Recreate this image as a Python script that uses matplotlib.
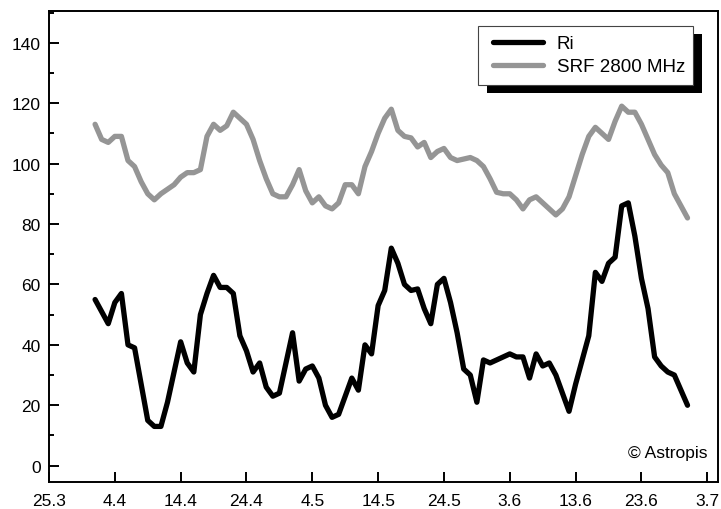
"""Ri index vs SRF 2800 MHz solar flux, April-June, drawn to out.png."""

from datetime import datetime, timedelta

import matplotlib

matplotlib.use("Agg")
import matplotlib.pyplot as plt
from matplotlib.patches import Rectangle
from matplotlib.ticker import MultipleLocator

YEAR = 2010

# daily values, 1 April .. 30 June
start_day = datetime(YEAR, 4, 1)
ri = [
    55, 51, 47, 54, 57, 40, 39, 27, 15, 13,
    13, 21, 31, 41, 34, 31, 50, 57, 63, 59,
    59, 57, 43, 38, 31, 34, 26, 23, 24, 34,
    44, 28, 32, 33, 29, 20, 16, 17, 23, 29,
    25, 40, 37, 53, 58, 72, 67, 60, 58, 58.5,
    52, 47, 60, 62, 54, 44, 32, 30, 21, 35,
    34, 35, 36, 37, 36, 36, 29, 37, 33, 34,
    30, 24, 18, 27, 35, 43, 64, 61, 67, 69,
    86, 87, 76, 62, 52, 36, 33, 31, 30, 25,
    20,
]
srf = [
    113, 108, 107, 109, 109, 101, 99, 94, 90, 88,
    90, 91.5, 93, 95.5, 97, 97, 98, 109, 113, 111,
    112.5, 117, 115, 113, 108, 101, 95, 90, 89, 89,
    93, 98, 91, 87, 89, 86, 85, 87, 93, 93,
    90, 99, 104, 110, 115, 118, 111, 109, 108.5, 105.5,
    107, 102, 104, 105, 102, 101, 101.5, 102, 101, 99,
    95, 90.5, 90, 90, 88, 85, 88, 89, 87, 85,
    83, 85, 89, 96, 103, 109, 112, 110, 108, 114,
    119, 117, 117, 113, 108, 103, 99.5, 97, 90, 86,
    82,
]
tick_labels = ["25.3", "4.4", "14.4", "24.4", "4.5", "14.5",
               "24.5", "3.6", "13.6", "23.6", "3.7"]

days = [start_day + timedelta(days=i) for i in range(len(ri))]
tick_dates = []
for lab in tick_labels:
    d, m = lab.split(".")
    tick_dates.append(datetime(YEAR, int(m), int(d)))

plt.rcParams["font.family"] = ["Liberation Sans", "DejaVu Sans"]

W, H = 721, 510
fig = plt.figure(figsize=(W / 100, H / 100), dpi=100)
ax = fig.add_axes([49 / W, 1 - 482.7 / H, (718 - 49) / W, (482.7 - 12) / H])

ax.plot(days, ri, color="black", linewidth=3.8, label="Ri",
        solid_joinstyle="round", solid_capstyle="round", zorder=3)
ax.plot(days, srf, color="#959595", linewidth=3.8, label="SRF 2800 MHz",
        solid_joinstyle="round", solid_capstyle="round", zorder=2)

ax.set_xlim(tick_dates[0], tick_dates[-1] + timedelta(days=1.63))
ax.set_ylim(-5.3, 150.5)

ax.set_xticks(tick_dates)
ax.set_xticklabels(tick_labels)
ax.yaxis.set_major_locator(MultipleLocator(20))
ax.yaxis.set_minor_locator(MultipleLocator(10))
ax.set_yticks(range(0, 141, 20))

for side in ["top", "right", "bottom", "left"]:
    ax.spines[side].set_linewidth(1.4)
ax.tick_params(axis="both", which="both", direction="in", width=1.4,
               labelsize=12.5, colors="black")
ax.tick_params(axis="both", which="major", length=7)
ax.tick_params(axis="y", which="minor", length=3.8)
ax.tick_params(axis="x", pad=8)
ax.tick_params(axis="y", pad=6)

# legend frame with a hard black drop shadow
shadow = Rectangle((487 / W, 1 - 94 / H), 215 / W, 59 / H,
                   transform=fig.transFigure, facecolor="black",
                   edgecolor="none", zorder=6, clip_on=False)
frame = Rectangle((478 / W, 1 - 86 / H), 215 / W, 59 / H,
                  transform=fig.transFigure, facecolor="white",
                  edgecolor="#444444", linewidth=0.8, zorder=7, clip_on=False)
ax.add_patch(shadow)
ax.add_patch(frame)

leg = ax.legend(loc="upper left", bbox_to_anchor=(493 / W, 1 - 36 / H),
                bbox_transform=fig.transFigure, frameon=False,
                fontsize=13.5, handlelength=2.65, handletextpad=0.75,
                labelspacing=0.32, borderpad=0, borderaxespad=0)
leg.set_zorder(8)

ax.text(0.985, 0.063, "© Astropis", transform=ax.transAxes,
        ha="right", va="center", fontsize=12.5)

fig.savefig("out.png", dpi=100)
